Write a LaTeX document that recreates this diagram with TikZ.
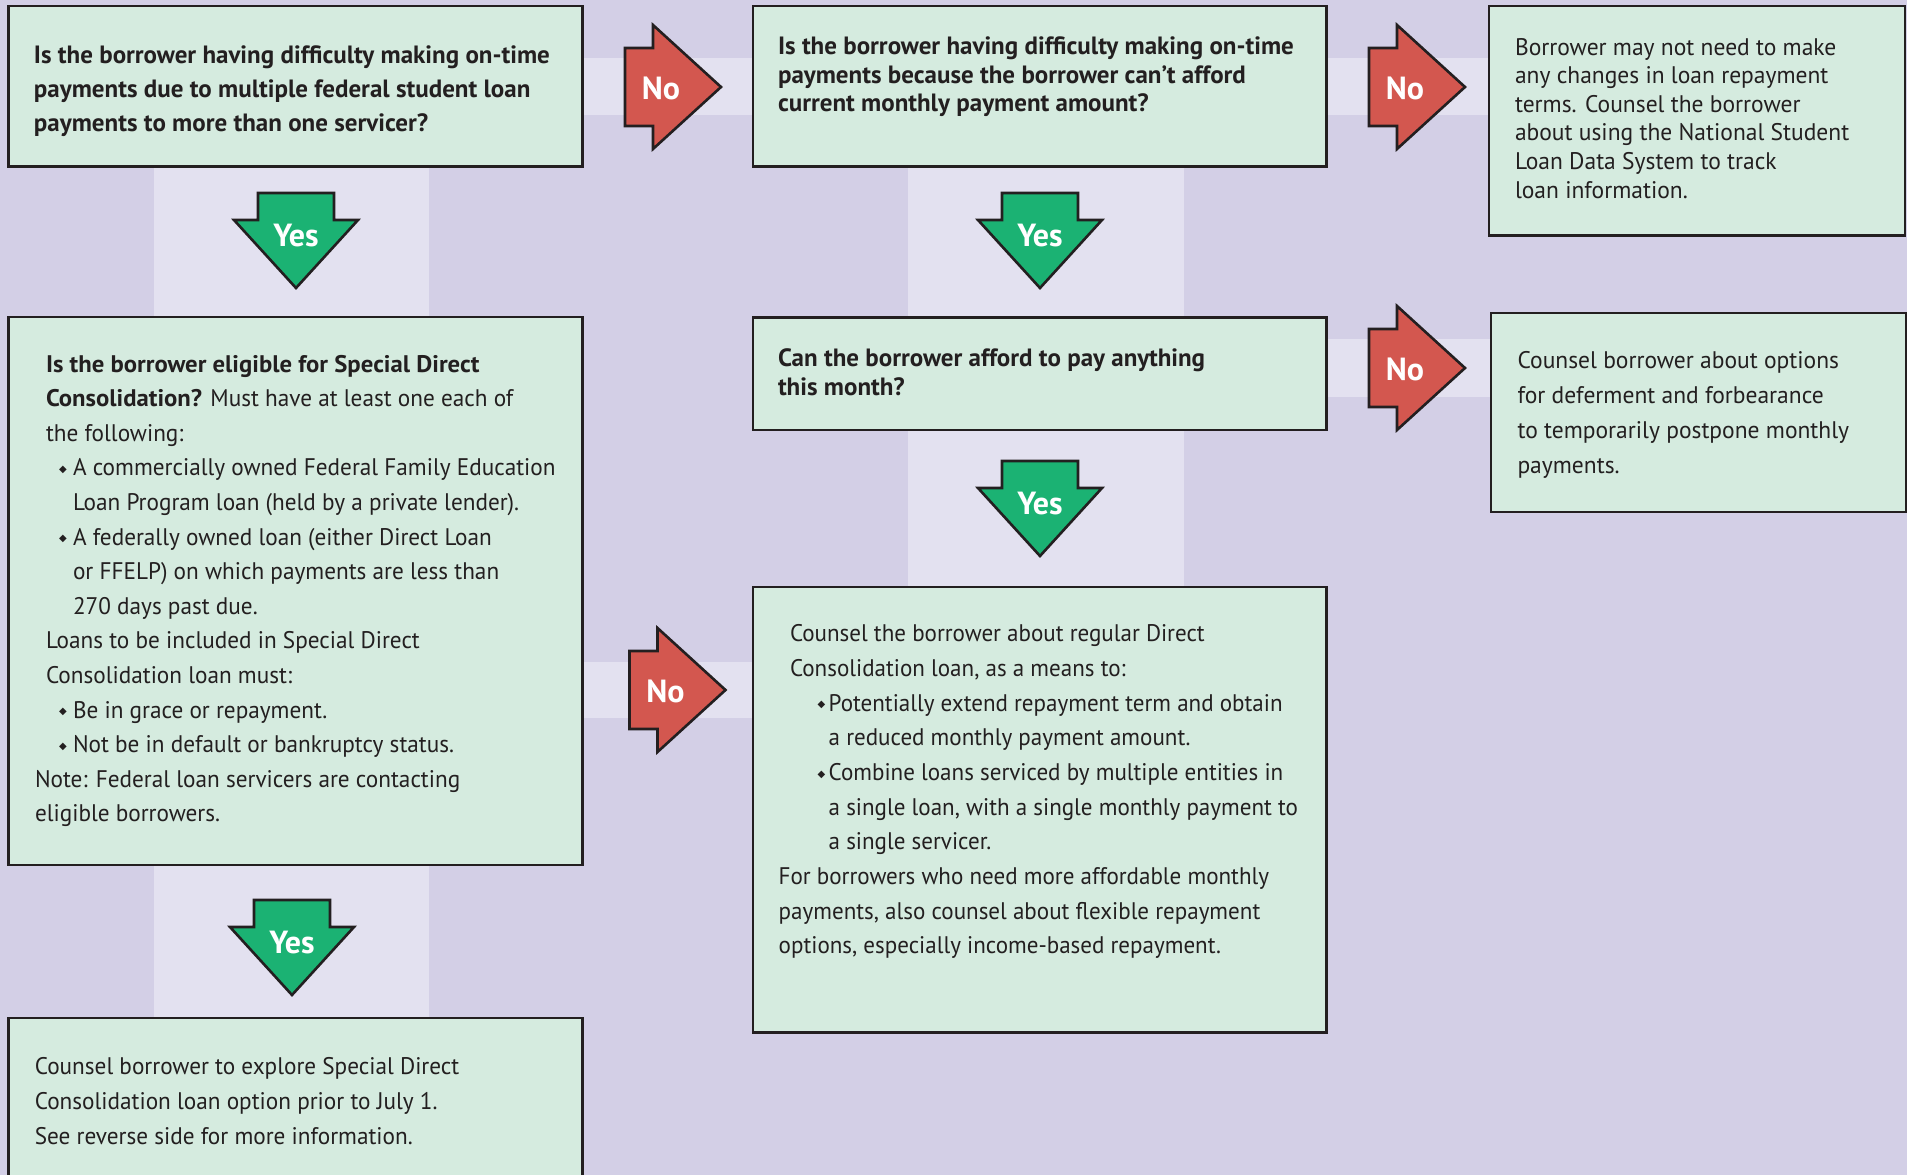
\documentclass[tikz,border=0pt]{standalone}
\usepackage{fontspec}
\setmainfont{PT Sans}
\newfontfamily\fR[FakeStretch=0.98]{PT Sans}
\newfontfamily\fRa[FakeStretch=0.968]{PT Sans}
\newfontfamily\fB[FakeStretch=1.03]{PT Sans}
\newfontfamily\fQ[FakeStretch=1.0]{PT Sans}
\newfontfamily\fC[FakeStretch=0.96]{PT Sans}
\newfontfamily\fSym{DejaVu Sans}
\definecolor{bg}{HTML}{D3CFE6}
\definecolor{band}{HTML}{E3E1F0}
\definecolor{boxfill}{HTML}{D5EBDF}
\definecolor{ink}{HTML}{231F20}
\definecolor{nored}{HTML}{D3574F}
\definecolor{yesgreen}{HTML}{1BB273}
\newcommand{\bul}[1]{\makebox[#1][l]{\raisebox{3.5pt}{\fSym\fontsize{10}{10}\selectfont ◆}}}
\newcommand{\RArr}[3]{%
  \draw[arrowline, fill=nored] (#2,#3-39) -- (#2+28,#3-39) -- (#2+28,#3-62) -- (#2+96,#3)
    -- (#2+28,#3+62) -- (#2+28,#3+39) -- (#2,#3+39) -- cycle;
  \node[nolabel] (#1) at (#2+36,#3+1) {No};}
\newcommand{\DArr}[3]{%
  \draw[arrowline, fill=yesgreen] (#2-38,#3) -- (#2+38,#3) -- (#2+38,#3+27) -- (#2+62,#3+27)
    -- (#2,#3+95) -- (#2-62,#3+27) -- (#2-38,#3+27) -- cycle;
  \node[nolabel] (#1) at (#2,#3+42.5) {Yes};}
\tikzset{
  box/.style={draw=ink, line width=2.8pt, fill=boxfill, rectangle, anchor=north west,
    inner sep=0pt, outer sep=0pt},
  txt/.style={anchor=north west, inner sep=0pt, outer sep=0pt, align=left, text=ink},
  arrowline/.style={draw=ink, line width=2.6pt, line join=miter},
  nolabel/.style={text=white, font={\fQ\bfseries\fontsize{32}{32}\selectfont}, inner sep=0pt},
  bandfill/.style={fill=band},
}
\begin{document}
\begin{tikzpicture}[x=1pt,y=-1pt]
\useasboundingbox (0,0) rectangle (1907,1175);
\clip (0,0) rectangle (1907,1175);
\fill[bg] (0,0) rectangle (1907,1175);
% light bands
\fill[bandfill] (582,58) rectangle (1489,115);
\fill[bandfill] (154,166) rectangle (429,1018);
\fill[bandfill] (908,166) rectangle (1184,587);
\fill[bandfill] (1326,339) rectangle (1491,397);
\fill[bandfill] (582,662) rectangle (753,718);
% boxes
\node[box, minimum width=574pt, minimum height=160.5pt] (q1) at (8.5,6) {};
\node[box, minimum width=573.5pt, minimum height=160.5pt] (q2) at (753,6) {};
\node[box, minimum width=416pt, minimum height=229.5pt] (r1) at (1489,6) {};
\node[box, minimum width=574pt, minimum height=548pt] (q3) at (8.5,317) {};
\node[box, minimum width=573.5pt, minimum height=112.5pt] (q4) at (753,317.5) {};
\node[box, minimum width=415pt, minimum height=199pt] (r2) at (1491,313) {};
\node[box, minimum width=573.5pt, minimum height=445.5pt] (r3) at (753,587) {};
\node[box, minimum width=574pt, minimum height=170pt] (r4) at (8.5,1018) {};
% texts
\node[txt, font={\fQ\bfseries\fontsize{25}{34.3}\selectfont}] (t1) at (34,39.3)
 {\strut Is the borrower having difficulty making on-time\\
  payments due to multiple federal student loan\\
  payments to more than one servicer?};
\node[txt, font={\fQ\bfseries\fontsize{25}{28.5}\selectfont}] (t2) at (778,35)
 {\strut Is the borrower having difficulty making on-time\\
  payments because the borrower can’t afford\\
  current monthly payment amount?};
\node[txt, font={\fR\fontsize{24}{28.6}\selectfont}] (t3) at (1515,35)
 {\strut Borrower may not need to make\\
  any changes in loan repayment\\
  terms. Counsel the borrower\\
  about using the National Student\\
  Loan Data System to track\\
  loan information.};
\node[txt, font={\fRa\fontsize{24}{34.6}\selectfont}] (t4) at (35,347.8)
 {\strut\hspace*{11pt}{\fB\bfseries Is the borrower eligible for Special Direct}\\
  \hspace*{11pt}{\fB\bfseries Consolidation?} Must have at least one each of\\
  \hspace*{11pt}the following:\\
  \hspace*{24pt}\bul{14pt}A commercially owned Federal Family Education\\
  \hspace*{38pt}Loan Program loan (held by a private lender).\\
  \hspace*{24pt}\bul{14pt}A federally owned loan (either Direct Loan\\
  \hspace*{38pt}or FFELP) on which payments are less than\\
  \hspace*{38pt}270 days past due.\\
  \hspace*{11pt}Loans to be included in Special Direct\\
  \hspace*{11pt}Consolidation loan must:\\
  \hspace*{24pt}\bul{14pt}Be in grace or repayment.\\
  \hspace*{24pt}\bul{14pt}Not be in default or bankruptcy status.\\
  Note: Federal loan servicers are contacting\\
  eligible borrowers.};
\node[txt, font={\fQ\bfseries\fontsize{25}{29}\selectfont}] (t5) at (778,345.7)
 {\strut Can the borrower afford to pay anything\\
  this month?};
\node[txt, font={\fR\fontsize{24}{35}\selectfont}] (t6) at (1517.5,344)
 {\strut Counsel borrower about options\\
  for deferment and forbearance\\
  to temporarily postpone monthly\\
  payments.};
\node[txt, font={\fC\fontsize{24}{34.7}\selectfont}] (t7) at (778.7,617.4)
 {\strut\hspace*{11.3pt}Counsel the borrower about regular Direct\\
  \hspace*{11.3pt}Consolidation loan, as a means to:\\
  \hspace*{38.8pt}\bul{11.2pt}Potentially extend repayment term and obtain\\
  \hspace*{50pt}a reduced monthly payment amount.\\
  \hspace*{38.8pt}\bul{11.2pt}Combine loans serviced by multiple entities in\\
  \hspace*{50pt}a single loan, with a single monthly payment to\\
  \hspace*{50pt}a single servicer.\\
  For borrowers who need more affordable monthly\\
  payments, also counsel about flexible repayment\\
  options, especially income-based repayment.};
\node[txt, font={\fRa\fontsize{24}{35}\selectfont}] (t8) at (34.8,1049.5)
 {\strut Counsel borrower to explore Special Direct\\
  Consolidation loan option prior to July 1.\\
  See reverse side for more information.};
% arrows
\RArr{no1}{625}{87}
\RArr{no2}{1369}{87}
\RArr{no3}{1369}{368}
\RArr{no4}{629.5}{690}
\DArr{yes1}{296}{193}
\DArr{yes2}{1040}{193}
\DArr{yes3}{1040}{461}
\DArr{yes4}{292}{900}
\end{tikzpicture}
\end{document}
